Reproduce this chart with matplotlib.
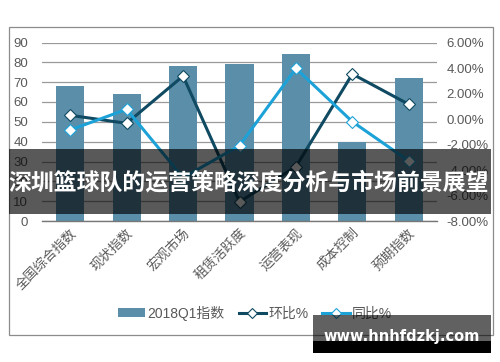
import matplotlib
matplotlib.use('Agg')
import matplotlib.pyplot as plt
from matplotlib.patches import Rectangle, Patch
from matplotlib.lines import Line2D
from matplotlib.ticker import FuncFormatter
import numpy as np

plt.rcParams['font.family'] = ['Liberation Sans', 'Noto Sans CJK SC', 'DejaVu Sans']

# 数据
categories = ['全国综合指数', '现状指数', '宏观市场', '租赁活跃度', '运营表现', '成本控制', '预期指数']
index_2018q1 = [68, 64, 78, 79, 84, 40, 72]
huanbi = [0.29, -0.34, 3.37, -6.49, -3.74, 3.53, 1.15]   # 环比 %
tongbi = [-0.86, 0.76, -4.6, -2.09, 3.97, -0.21, -3.29]  # 同比 %

title_text = '深圳篮球队的运营策略深度分析与市场前景展望'
watermark = 'www.hnhfdzkj.com'

bar_color = '#5B8EA8'
dark_color = '#0F4A62'
light_color = '#1DA2D8'
tick_color = '#595959'

fig = plt.figure(figsize=(5, 3.62), dpi=100)
W, H = 500, 362

def fx(px):
    return px / W

def fy(py):
    return 1 - py / H

# 图表外框
fig.patches.append(Rectangle((fx(9), fy(335)), fx(493) - fx(9), fy(27) - fy(335),
                             transform=fig.transFigure, fill=False,
                             edgecolor='#8c8c8c', lw=0.9, zorder=0))

ax = fig.add_axes([fx(42), fy(221), fx(437) - fx(42), fy(42.5) - fy(221)])
x = np.arange(len(categories))
ax.bar(x, index_2018q1, width=0.5, color=bar_color, zorder=2)
ax.set_ylim(0, 90)
ax.set_yticks(np.arange(0, 91, 10))
ax.set_xlim(-0.5, len(categories) - 0.5)
ax.grid(axis='y', color='#9a9a9a', lw=0.9, zorder=0)
ax.set_axisbelow(True)
for s in ['top', 'left', 'right']:
    ax.spines[s].set_visible(False)
ax.spines['bottom'].set_color('#777777')
ax.spines['bottom'].set_linewidth(1.0)
ax.tick_params(axis='y', length=0, pad=10, labelsize=9.5, labelcolor=tick_color)
ax.tick_params(axis='x', length=0, pad=4)
ax.set_xticks(x)
ax.set_xticklabels(categories, rotation=45, ha='right', va='top',
                   rotation_mode='anchor', fontsize=9.5, color=tick_color)

ax2 = ax.twinx()
ax2.set_ylim(-8, 6)
ax2.set_yticks(np.arange(-8, 6.1, 2))
ax2.yaxis.set_major_formatter(FuncFormatter(lambda v, p: f'{v:.2f}%'))
for s in ax2.spines.values():
    s.set_visible(False)
ax2.tick_params(axis='y', length=0, pad=7, labelsize=9.5, labelcolor=tick_color)

ax2.plot(x, huanbi, color=dark_color, lw=2.2, marker='D', ms=6.5,
         mfc='white', mec=dark_color, mew=0.8, zorder=3)
ax2.plot(x, tongbi, color=light_color, lw=2.2, marker='D', ms=6.5,
         mfc='white', mec=light_color, mew=0.8, zorder=3)

handles = [Patch(facecolor=bar_color, edgecolor='none'),
           Line2D([], [], color=dark_color, lw=2.2, marker='D', ms=5, mfc='white', mec=dark_color, mew=0.8),
           Line2D([], [], color=light_color, lw=2.2, marker='D', ms=5, mfc='white', mec=light_color, mew=0.8)]
fig.legend(handles, ['2018Q1指数', '环比%', '同比%'], loc='center',
           bbox_to_anchor=(fx(255), fy(313)), ncol=3, frameon=False,
           fontsize=10, labelcolor=tick_color, handlelength=2.0, handleheight=0.6,
           handletextpad=0.15, columnspacing=1.0)

# 标题遮罩
fig.patches.append(Rectangle((fx(9), fy(214)), fx(491) - fx(9), fy(149) - fy(214),
                             transform=fig.transFigure, color='black', alpha=0.65,
                             lw=0, zorder=10))
fig.text(fx(249), fy(183), title_text, ha='center', va='center', color='white',
         fontsize=16.5, fontweight='bold', family=['Noto Sans CJK SC'], zorder=11)

# 水印
fig.patches.append(Rectangle((fx(313), fy(341)), fx(491) - fx(313), fy(315) - fy(341),
                             transform=fig.transFigure, color='black', alpha=0.62,
                             lw=0, zorder=10))
fig.patches.append(Rectangle((fx(313), fy(353)), fx(491) - fx(313), fy(341) - fy(353),
                             transform=fig.transFigure, color='black',
                             lw=0, zorder=10))
fig.text(fx(402), fy(336), watermark, ha='center', va='center', color='white',
         fontsize=10.5, fontweight='bold', family=['DejaVu Sans'], zorder=11)

fig.savefig('out.png', dpi=100)
